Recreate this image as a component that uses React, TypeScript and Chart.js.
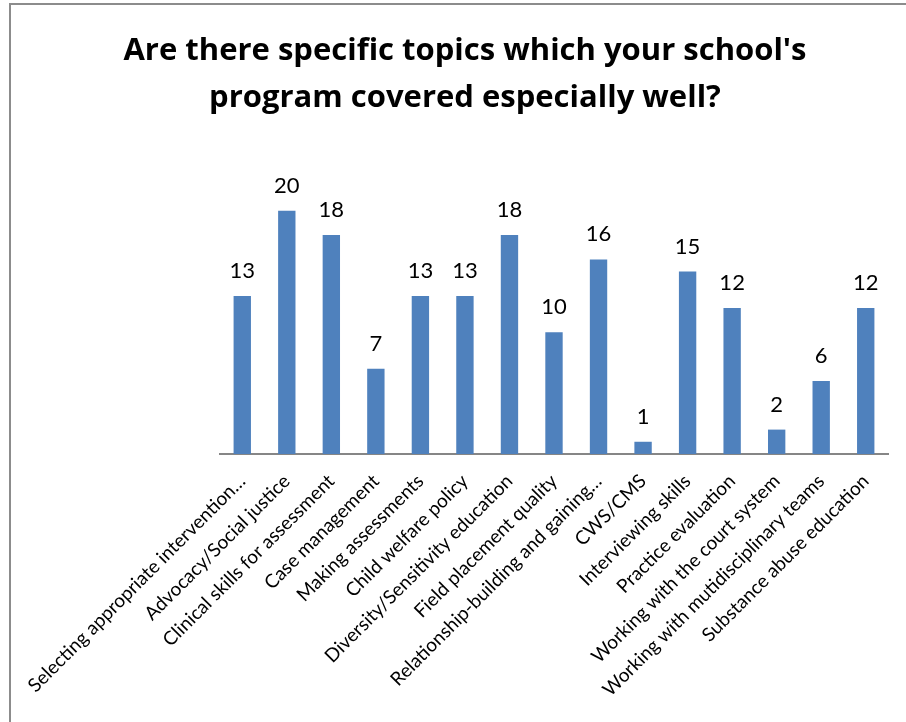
import React, { useEffect, useRef } from "react";
import { Chart, registerables } from "chart.js";

Chart.register(...registerables);

const categories = [
  "Selecting appropriate intervention…",
  "Advocacy/Social justice",
  "Clinical skills for assessment",
  "Case management",
  "Making assessments",
  "Child welfare policy",
  "Diversity/Sensitivity education",
  "Field placement quality",
  "Relationship-building and gaining…",
  "CWS/CMS",
  "Interviewing skills",
  "Practice evaluation",
  "Working with the court system",
  "Working with mutidisciplinary teams",
  "Substance abuse education",
];
const counts = [13, 20, 18, 7, 13, 13, 18, 10, 16, 1, 15, 12, 2, 6, 12];
const titleLines = [
  "Are there specific topics which your school's",
  "program covered especially well?",
];

const FONT = "Lato, 'Open Sans', sans-serif";
const TITLE_FONT = "'Open Sans', Lato, sans-serif";

const valueLabels = {
  id: "valueLabels",
  afterDatasetsDraw(chart: any) {
    const ctx = chart.ctx;
    const meta = chart.getDatasetMeta(0);
    ctx.save();
    ctx.font = `22px ${FONT}`;
    ctx.fillStyle = "#000";
    ctx.textAlign = "center";
    ctx.textBaseline = "alphabetic";
    meta.data.forEach((bar: any, i: number) => {
      ctx.fillText(String(counts[i]), bar.x, bar.y - 18);
    });
    ctx.restore();
  },
};

export default function App() {
  const ref = useRef<HTMLCanvasElement | null>(null);

  useEffect(() => {
    if (!ref.current) return;
    const chart = new Chart(ref.current, {
      type: "bar",
      data: {
        labels: categories,
        datasets: [
          {
            data: counts,
            backgroundColor: "#4F81BD",
            borderWidth: 0,
            barPercentage: 0.39,
            categoryPercentage: 1,
          },
        ],
      },
      options: {
        animation: false,
        responsive: true,
        maintainAspectRatio: false,
        layout: { padding: { left: 42, right: 18, top: 0, bottom: 13 } },
        plugins: {
          legend: { display: false },
          tooltip: { enabled: false },
          title: {
            display: true,
            text: titleLines,
            color: "#000",
            font: { family: TITLE_FONT, size: 31, weight: "bold", lineHeight: 1.5 },
            padding: { top: 28, bottom: 29 },
          },
        },
        scales: {
          x: {
            grid: { display: false },
            border: { display: true, color: "#868686", width: 2 },
            ticks: {
              color: "#000",
              font: { family: FONT, size: 19 },
              autoSkip: false,
              maxRotation: 45,
              minRotation: 45,
              padding: 8,
            },
          },
          y: {
            display: true,
            min: 0,
            max: 25,
            ticks: { display: false },
            grid: { display: false },
            border: { display: false },
            afterFit(scale: any) {
              scale.width = 178;
            },
          },
        },
      },
      plugins: [valueLabels],
    });
    return () => chart.destroy();
  }, []);

  return (
    <div
      style={{
        position: "fixed",
        left: 0,
        top: 0,
        width: 906,
        height: 722,
        background: "#fff",
        overflow: "hidden",
      }}
    >
      <div
        style={{
          position: "absolute",
          left: 9,
          top: 3,
          width: 2000,
          height: 2000,
          borderLeft: "2px solid #8c8c8c",
          borderTop: "2px solid #8c8c8c",
        }}
      />
      <div style={{ position: "absolute", left: 0, top: 0, width: 906, height: 722 }}>
        <canvas ref={ref} />
      </div>
    </div>
  );
}
